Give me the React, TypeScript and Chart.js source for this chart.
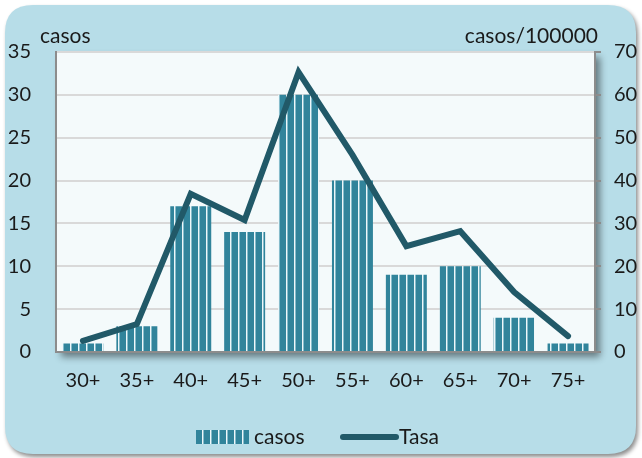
import React, { useEffect, useRef } from "react";
import { Chart, registerables } from "chart.js";

Chart.register(...registerables);

const categories = ["30+", "35+", "40+", "45+", "50+", "55+", "60+", "65+", "70+", "75+"];
const casos = [1, 3, 17, 14, 30, 20, 9, 10, 4, 1];
const tasa = [2.6, 6.5, 36.9, 30.8, 65.3, 46, 24.7, 28.2, 14, 3.7];
const leftTicks = [0, 5, 10, 15, 20, 25, 30, 35];
const rightTicks = [0, 10, 20, 30, 40, 50, 60, 70];

const BAR = "#31849b";
const LINE = "#215968";
const FONT = "Lato, 'Open Sans', sans-serif";

function makePattern(): CanvasPattern | string {
  const c = document.createElement("canvas");
  c.width = 8;
  c.height = 8;
  const g = c.getContext("2d");
  if (!g) return BAR;
  g.fillStyle = BAR;
  g.fillRect(0, 0, 8, 8);
  g.fillStyle = "#eef7fa";
  g.fillRect(6, 0, 1, 8);
  g.fillStyle = "#86bccb";
  g.fillRect(7, 0, 1, 8);
  const p = g.createPattern(c, "repeat");
  return p || BAR;
}

function roundRect(ctx: CanvasRenderingContext2D, x: number, y: number, w: number, h: number, r: number) {
  ctx.beginPath();
  ctx.moveTo(x + r, y);
  ctx.lineTo(x + w - r, y);
  ctx.quadraticCurveTo(x + w, y, x + w, y + r);
  ctx.lineTo(x + w, y + h - r);
  ctx.quadraticCurveTo(x + w, y + h, x + w - r, y + h);
  ctx.lineTo(x + r, y + h);
  ctx.quadraticCurveTo(x, y + h, x, y + h - r);
  ctx.lineTo(x, y + r);
  ctx.quadraticCurveTo(x, y, x + r, y);
  ctx.closePath();
}

export default function App() {
  const ref = useRef<HTMLCanvasElement | null>(null);

  useEffect(() => {
    const canvas = ref.current;
    if (!canvas) return;
    const pattern = makePattern();

    const bgPlugin = {
      id: "bg",
      beforeDraw(chart: any) {
        const ctx = chart.ctx as CanvasRenderingContext2D;
        const { left, top, right, bottom } = chart.chartArea;
        ctx.save();
        ctx.fillStyle = "#ffffff";
        ctx.fillRect(0, 0, chart.width, chart.height);
        ctx.shadowColor = "rgba(0,0,0,0.45)";
        ctx.shadowBlur = 4;
        ctx.shadowOffsetX = 2;
        ctx.shadowOffsetY = 3;
        roundRect(ctx, 5, 5, 631, 449, 28);
        ctx.fillStyle = "#b7dde8";
        ctx.fill();
        ctx.restore();
        ctx.save();
        ctx.shadowColor = "rgba(0,0,0,0.45)";
        ctx.shadowBlur = 7;
        ctx.shadowOffsetX = 5;
        ctx.shadowOffsetY = 5;
        ctx.fillStyle = "#f4fafb";
        ctx.fillRect(left, top, right - left, bottom - top);
        ctx.restore();
      },
      afterDraw(chart: any) {
        const ctx = chart.ctx as CanvasRenderingContext2D;
        ctx.save();
        ctx.fillStyle = "#1a1a1a";
        ctx.font = `21px ${FONT}`;
        ctx.textBaseline = "alphabetic";
        ctx.textAlign = "left";
        ctx.fillText("casos", 40, 43);
        ctx.textAlign = "right";
        ctx.fillText("casos/100000", 598, 43);
        const ly = 437;
        ctx.fillStyle = pattern as any;
        ctx.save();
        ctx.translate(196, 0);
        ctx.fillRect(0, ly - 7, 53, 14);
        ctx.restore();
        ctx.fillStyle = "#1a1a1a";
        ctx.textAlign = "left";
        ctx.textBaseline = "middle";
        ctx.fillText("casos", 254, ly);
        ctx.strokeStyle = LINE;
        ctx.lineWidth = 6;
        ctx.lineCap = "round";
        ctx.beginPath();
        ctx.moveTo(343, ly);
        ctx.lineTo(396, ly);
        ctx.stroke();
        ctx.fillText("Tasa", 399, ly);
        ctx.restore();
      },
    };

    const chart = new Chart(canvas, {
      type: "bar",
      data: {
        labels: categories,
        datasets: [
          {
            type: "line",
            label: "Tasa",
            data: tasa,
            yAxisID: "y1",
            borderColor: LINE,
            backgroundColor: LINE,
            borderWidth: 6,
            pointRadius: 0,
            tension: 0,
            borderCapStyle: "round",
            borderJoinStyle: "miter",
            order: 0,
          } as any,
          {
            type: "bar",
            label: "casos",
            data: casos,
            yAxisID: "y",
            backgroundColor: pattern as any,
            borderWidth: 0,
            barPercentage: 0.76,
            categoryPercentage: 1,
            order: 1,
          },
        ],
      },
      options: {
        animation: false,
        responsive: false,
        maintainAspectRatio: false,
        layout: { padding: { top: 52, left: 0, right: 0, bottom: 0 } },
        plugins: { legend: { display: false }, tooltip: { enabled: false } },
        scales: {
          x: {
            grid: { display: false, drawTicks: false },
            border: { display: true, color: "#8c8c8c", width: 2 },
            ticks: { color: "#1a1a1a", font: { family: FONT, size: 20 }, padding: 17 },
            afterFit(s: any) {
              s.height = 106;
            },
          },
          y: {
            position: "left",
            min: 0,
            max: 35,
            afterBuildTicks(s: any) {
              s.ticks = leftTicks.map((v) => ({ value: v }));
            },
            grid: { color: "#d9d9d9", lineWidth: 2, drawTicks: false },
            border: { display: true, color: "#8c8c8c", width: 2 },
            ticks: { color: "#1a1a1a", font: { family: FONT, size: 20 }, padding: 25 },
            afterFit(s: any) {
              s.width = 56;
            },
          },
          y1: {
            position: "right",
            min: 0,
            max: 70,
            afterBuildTicks(s: any) {
              s.ticks = rightTicks.map((v) => ({ value: v }));
            },
            grid: { drawOnChartArea: false, drawTicks: true, tickLength: 6, color: "#8c8c8c", lineWidth: 2 },
            border: { display: true, color: "#8c8c8c", width: 2 },
            ticks: { color: "#1a1a1a", font: { family: FONT, size: 20 }, padding: 13 },
            afterFit(s: any) {
              s.width = 47;
            },
          },
        },
      },
      plugins: [bgPlugin],
    });
    return () => chart.destroy();
  }, []);

  return (
    <div style={{ position: "fixed", left: 0, top: 0, width: 642, height: 458 }}>
      <canvas ref={ref} width={642} height={458} style={{ width: 642, height: 458, display: "block" }} />
    </div>
  );
}
